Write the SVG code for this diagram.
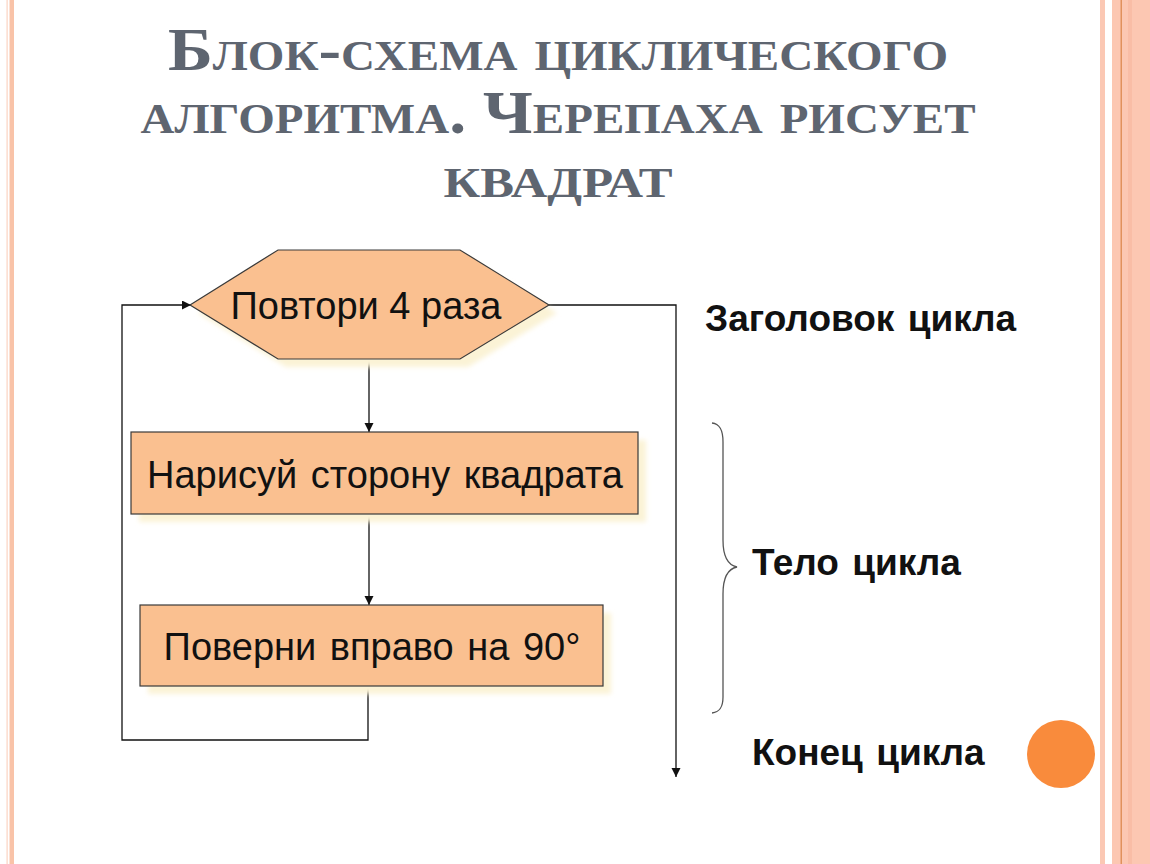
<svg xmlns="http://www.w3.org/2000/svg" width="1150" height="864" viewBox="0 0 1150 864">
  <defs>
    <style>
      .title { font-family: "Liberation Serif", "DejaVu Serif", serif; font-weight: bold; font-variant: small-caps; fill: #5E6570; font-size: 62px; }
      .box { fill: #FAC090; stroke: #3a3a3a; stroke-width: 1.2; }
      .shadow { fill: #FBF3D6; filter: url(#blur); }
      .btext { font-family: "Liberation Sans", Arial, sans-serif; font-size: 38px; fill: #111; text-anchor: middle; }
      .label { font-family: "Liberation Sans", Arial, sans-serif; font-size: 37px; font-weight: bold; fill: #111; word-spacing: 3px; }
      .conn { fill: none; stroke: #111; stroke-width: 1.3; }
    </style>
    <filter id="blur" x="-10%" y="-10%" width="120%" height="120%">
      <feGaussianBlur stdDeviation="2.5"/>
    </filter>
    <marker id="arr" markerUnits="userSpaceOnUse" markerWidth="10" markerHeight="10" refX="9" refY="4.5" orient="auto">
      <path d="M0,0 L9,4.5 L0,9 z" fill="#111"/>
    </marker>
  </defs>

  <rect width="1150" height="864" fill="#FFFFFF"/>

  <!-- page borders -->
  <g id="borders">
    <rect x="6.5" y="0" width="1.2" height="864" fill="#FBD3C2"/>
    <rect x="9.5" y="0" width="4.5" height="864" fill="#F9C3A8"/>
    <rect x="1100" y="0" width="5" height="864" fill="#FBC8B4"/>
    <rect x="1112" y="0" width="38" height="864" fill="#FCC7B2"/>
    <rect x="1120.5" y="0" width="1.5" height="864" fill="#E1915C"/>
    <rect x="1128" y="0" width="4" height="864" fill="#F9BDA6"/>
  </g>

  <!-- title -->
  <g id="title">
    <text class="title" x="558" y="70" text-anchor="middle" textLength="780" lengthAdjust="spacingAndGlyphs">Блок-схема циклического</text>
    <text class="title" x="558" y="133" text-anchor="middle" textLength="835" lengthAdjust="spacingAndGlyphs">алгоритма. Черепаха рисует</text>
    <text class="title" x="558" y="197" text-anchor="middle" textLength="229" lengthAdjust="spacingAndGlyphs">квадрат</text>
  </g>

  <!-- connectors -->
  <g id="connectors">
    <path class="conn" d="M369,359 V432" marker-end="url(#arr)"/>
    <path class="conn" d="M369,514 V605" marker-end="url(#arr)"/>
    <path class="conn" d="M368,686 V740 H122 V305 H191" marker-end="url(#arr)"/>
    <path class="conn" d="M549,305 H676 V777" marker-end="url(#arr)"/>
  </g>

  <!-- nodes -->
  <g id="node-repeat">
    <polygon class="shadow" points="198,313 286,258 468,258 557,313 468,367 286,367"/>
    <polygon class="box" points="190,305 278,250 460,250 549,305 460,359 278,359"/>
    <text class="btext" x="366" y="319">Повтори 4 раза</text>
  </g>

  <g id="node-draw">
    <rect class="shadow" x="139" y="440" width="507" height="82"/>
    <rect class="box" x="131" y="432" width="507" height="82"/>
    <text class="btext" x="385" y="488" word-spacing="3">Нарисуй сторону квадрата</text>
  </g>

  <g id="node-turn">
    <rect class="shadow" x="148" y="613" width="463" height="81"/>
    <rect class="box" x="140" y="605" width="463" height="81"/>
    <text class="btext" x="372" y="660" word-spacing="3">Поверни вправо на 90°</text>
  </g>

  <!-- brace -->
  <g id="brace">
    <path d="M712,423 C720,424 723,430 723,442 V540 C723,556 727,565 737,567 C727,569 723,578 723,594 V697 C723,707 720,712 712,713" fill="none" stroke="#555" stroke-width="1.3"/>
  </g>

  <!-- labels -->
  <g id="label-header">
    <text class="label" x="705" y="331">Заголовок цикла</text>
  </g>
  <g id="label-body">
    <text class="label" x="752" y="575">Тело цикла</text>
  </g>
  <g id="label-end">
    <text class="label" x="752" y="765">Конец цикла</text>
  </g>

  <g id="dot">
    <circle cx="1061" cy="754" r="34" fill="#F98B3C"/>
  </g>
</svg>
